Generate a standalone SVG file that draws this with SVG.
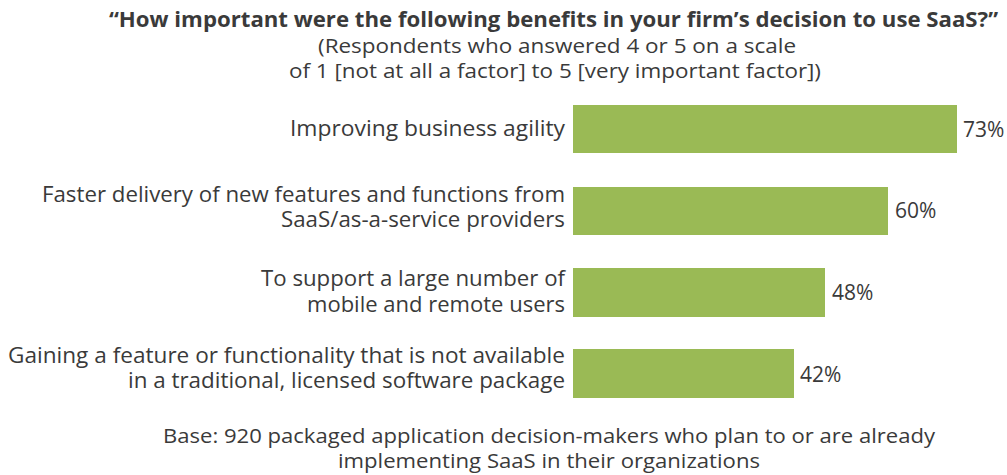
<svg xmlns="http://www.w3.org/2000/svg" width="1007" height="475" viewBox="0 0 1007 475">
<style>
.t{font-family:"Open Sans","Liberation Sans",sans-serif;fill:#3a3a3a;}
.title{font-size:22px;font-weight:bold;}
.sub{font-size:19.5px;}
.base{font-size:20.5px;}
.lbl{font-size:21px;text-anchor:end;}
.pct{font-size:21px;}
.bar{fill:#9aba55;}
</style>
<rect width="1007" height="475" fill="#ffffff"/>
<g id="title">
<text class="t title" x="109" y="26.5" textLength="889" lengthAdjust="spacingAndGlyphs">“How important were the following benefits in your firm’s decision to use SaaS?”</text>
<text class="t sub" x="318" y="53" textLength="478" lengthAdjust="spacingAndGlyphs">(Respondents who answered 4 or 5 on a scale</text>
<text class="t sub" x="289" y="78" textLength="532" lengthAdjust="spacingAndGlyphs">of 1 [not at all a factor] to 5 [very important factor])</text>
</g>
<g id="row1">
<text class="t lbl" x="565" y="136" textLength="275" lengthAdjust="spacingAndGlyphs">Improving business agility</text>
<rect class="bar" x="573" y="105" width="384" height="48"/>
<text class="t pct" x="963" y="137">73%</text>
</g>
<g id="row2">
<text class="t lbl" x="565" y="202" textLength="523" lengthAdjust="spacingAndGlyphs">Faster delivery of new features and functions from</text>
<text class="t lbl" x="565" y="227" textLength="284" lengthAdjust="spacingAndGlyphs">SaaS/as-a-service providers</text>
<rect class="bar" x="573" y="187" width="315" height="48"/>
<text class="t pct" x="895" y="218">60%</text>
</g>
<g id="row3">
<text class="t lbl" x="565" y="286" textLength="304" lengthAdjust="spacingAndGlyphs">To support a large number of</text>
<text class="t lbl" x="565" y="312" textLength="258" lengthAdjust="spacingAndGlyphs">mobile and remote users</text>
<rect class="bar" x="573" y="268" width="252" height="49"/>
<text class="t pct" x="832" y="300">48%</text>
</g>
<g id="row4">
<text class="t lbl" x="565" y="363" textLength="557" lengthAdjust="spacingAndGlyphs">Gaining a feature or functionality that is not available</text>
<text class="t lbl" x="565" y="388" textLength="437" lengthAdjust="spacingAndGlyphs">in a traditional, licensed software package</text>
<rect class="bar" x="573" y="349" width="221" height="49"/>
<text class="t pct" x="800" y="382">42%</text>
</g>
<g id="base">
<text class="t base" x="163" y="443" textLength="772" lengthAdjust="spacingAndGlyphs">Base: 920 packaged application decision-makers who plan to or are already</text>
<text class="t base" x="338" y="468" textLength="422" lengthAdjust="spacingAndGlyphs">implementing SaaS in their organizations</text>
</g>
<g id="connectors"></g>
</svg>
